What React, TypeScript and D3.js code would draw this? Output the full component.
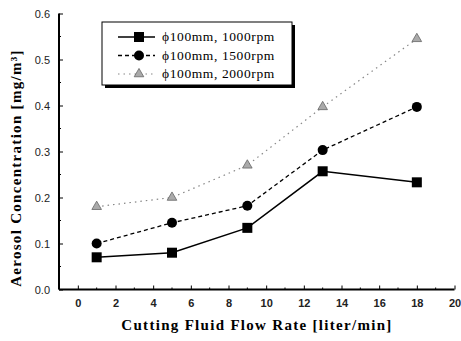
import React, { useEffect, useRef } from 'react';
import * as d3 from 'd3';

const flowRates = [1, 5, 9, 13, 18];
const rpm1000 = [0.07, 0.08, 0.134, 0.257, 0.233];
const rpm1500 = [0.1, 0.145, 0.182, 0.303, 0.397];
const rpm2000 = [0.18, 0.2, 0.27, 0.397, 0.545];
const seriesNames = ['ϕ100mm, 1000rpm', 'ϕ100mm, 1500rpm', 'ϕ100mm, 2000rpm'];
const xTicks = [0, 2, 4, 6, 8, 10, 12, 14, 16, 18, 20];
const yTicks = [0.0, 0.1, 0.2, 0.3, 0.4, 0.5, 0.6];

const App = () => {
  const svgRef = useRef<SVGSVGElement>(null);

  useEffect(() => {
    const width = 461;
    const height = 341;
    const svg = d3.select(svgRef.current);
    svg.selectAll('*').remove();
    svg.attr('width', width).attr('height', height);

    const x = d3.scaleLinear().domain([-1, 20]).range([59, 454.5]);
    const y = d3.scaleLinear().domain([0, 0.6]).range([289.5, 13.5]);

    const tickFont = '"Liberation Sans", Arial, sans-serif';
    const titleFont = '"Liberation Serif", "Times New Roman", serif';

    // Axes
    const xAxis = svg.append('g')
      .attr('transform', `translate(0,${y(0)})`)
      .call(d3.axisBottom(x).tickValues(xTicks).tickSize(-4).tickPadding(10).tickFormat(d3.format('d')));
    xAxis.select('.domain').attr('d', `M${x(-1)},0H${x(20)}`).attr('stroke-width', 2);
    xAxis.selectAll('text')
      .style('font-family', tickFont).style('font-size', '11px').style('font-weight', 'bold').attr('fill', '#222');

    svg.append('g')
      .attr('transform', `translate(0,${y(0)})`)
      .selectAll('line')
      .data(d3.range(-1, 20, 1).filter(v => v % 2 !== 0))
      .join('line')
      .attr('x1', d => x(d)).attr('x2', d => x(d))
      .attr('y1', 0).attr('y2', -2)
      .attr('stroke', '#000');

    const yAxis = svg.append('g')
      .attr('transform', `translate(${x(-1)},0)`)
      .call(d3.axisLeft(y).tickValues(yTicks).tickSize(-4).tickPadding(9).tickFormat(d3.format('.1f')));
    yAxis.select('.domain').attr('d', `M0,${y(0)}V${y(0.6)}`).attr('stroke-width', 2);
    yAxis.selectAll('text')
      .style('font-family', tickFont).style('font-size', '11px').attr('fill', '#222');

    svg.append('g')
      .attr('transform', `translate(${x(-1)},0)`)
      .selectAll('line')
      .data(d3.range(0.05, 0.6, 0.1))
      .join('line')
      .attr('x1', 0).attr('x2', 2)
      .attr('y1', d => y(d)).attr('y2', d => y(d))
      .attr('stroke', '#000');

    // Titles
    svg.append('text')
      .attr('x', 257).attr('y', 330)
      .attr('text-anchor', 'middle')
      .style('font-family', titleFont).style('font-size', '15px').style('font-weight', 'bold')
      .style('letter-spacing', '1.3px')
      .text('Cutting Fluid Flow Rate [liter/min]');

    svg.append('text')
      .attr('transform', 'translate(21,168) rotate(-90)')
      .attr('text-anchor', 'middle')
      .style('font-family', titleFont).style('font-size', '15px').style('font-weight', 'bold')
      .style('letter-spacing', '1.3px')
      .text('Aerosol Concentration [mg/m³]');

    const series = [
      { name: seriesNames[0], values: rpm1000, dash: null, color: '#000', marker: 'square', width: 1.5 },
      { name: seriesNames[1], values: rpm1500, dash: '4,3', color: '#000', marker: 'circle', width: 1.3 },
      { name: seriesNames[2], values: rpm2000, dash: '1.5,4', color: '#888', marker: 'triangle', width: 1.2 },
    ];

    const line = d3.line<number>()
      .x((_, i) => x(flowRates[i]))
      .y(d => y(d));

    const drawMarker = (g: any, type: string, cx: number, cy: number) => {
      if (type === 'square') {
        g.append('rect').attr('x', cx - 5).attr('y', cy - 5).attr('width', 10).attr('height', 10).attr('fill', '#000');
      } else if (type === 'circle') {
        g.append('circle').attr('cx', cx).attr('cy', cy).attr('r', 5).attr('fill', '#000');
      } else {
        g.append('path')
          .attr('d', d3.symbol().type(d3.symbolTriangle).size(40)())
          .attr('transform', `translate(${cx},${cy})`)
          .attr('fill', '#aaa').attr('stroke', '#666').attr('stroke-width', 0.8);
      }
    };

    series.forEach(s => {
      svg.append('path')
        .datum(s.values)
        .attr('d', line)
        .attr('fill', 'none')
        .attr('stroke', s.color)
        .attr('stroke-width', s.width)
        .attr('stroke-dasharray', s.dash);
      const g = svg.append('g');
      s.values.forEach((v, i) => drawMarker(g, s.marker, x(flowRates[i]), y(v)));
    });

    // Legend
    const legend = svg.append('g');
    legend.append('rect').attr('x', 105).attr('y', 25).attr('width', 190).attr('height', 63).attr('fill', '#000');
    legend.append('rect').attr('x', 102).attr('y', 22).attr('width', 190).attr('height', 63)
      .attr('fill', '#fff').attr('stroke', '#000').attr('stroke-width', 1);
    series.forEach((s, i) => {
      const ly = 37 + i * 18.5;
      legend.append('line')
        .attr('x1', 118).attr('x2', 155).attr('y1', ly).attr('y2', ly)
        .attr('stroke', s.color).attr('stroke-width', s.width).attr('stroke-dasharray', s.dash);
      drawMarker(legend, s.marker, 139, ly);
      legend.append('text')
        .attr('x', 162).attr('y', ly + 4)
        .style('font-family', titleFont).style('font-size', '13.5px')
        .style('letter-spacing', '0.6px')
        .text(s.name);
    });
  }, []);

  return <svg ref={svgRef} style={{ position: 'absolute', left: 0, top: 0 }} />;
};

export default App;
